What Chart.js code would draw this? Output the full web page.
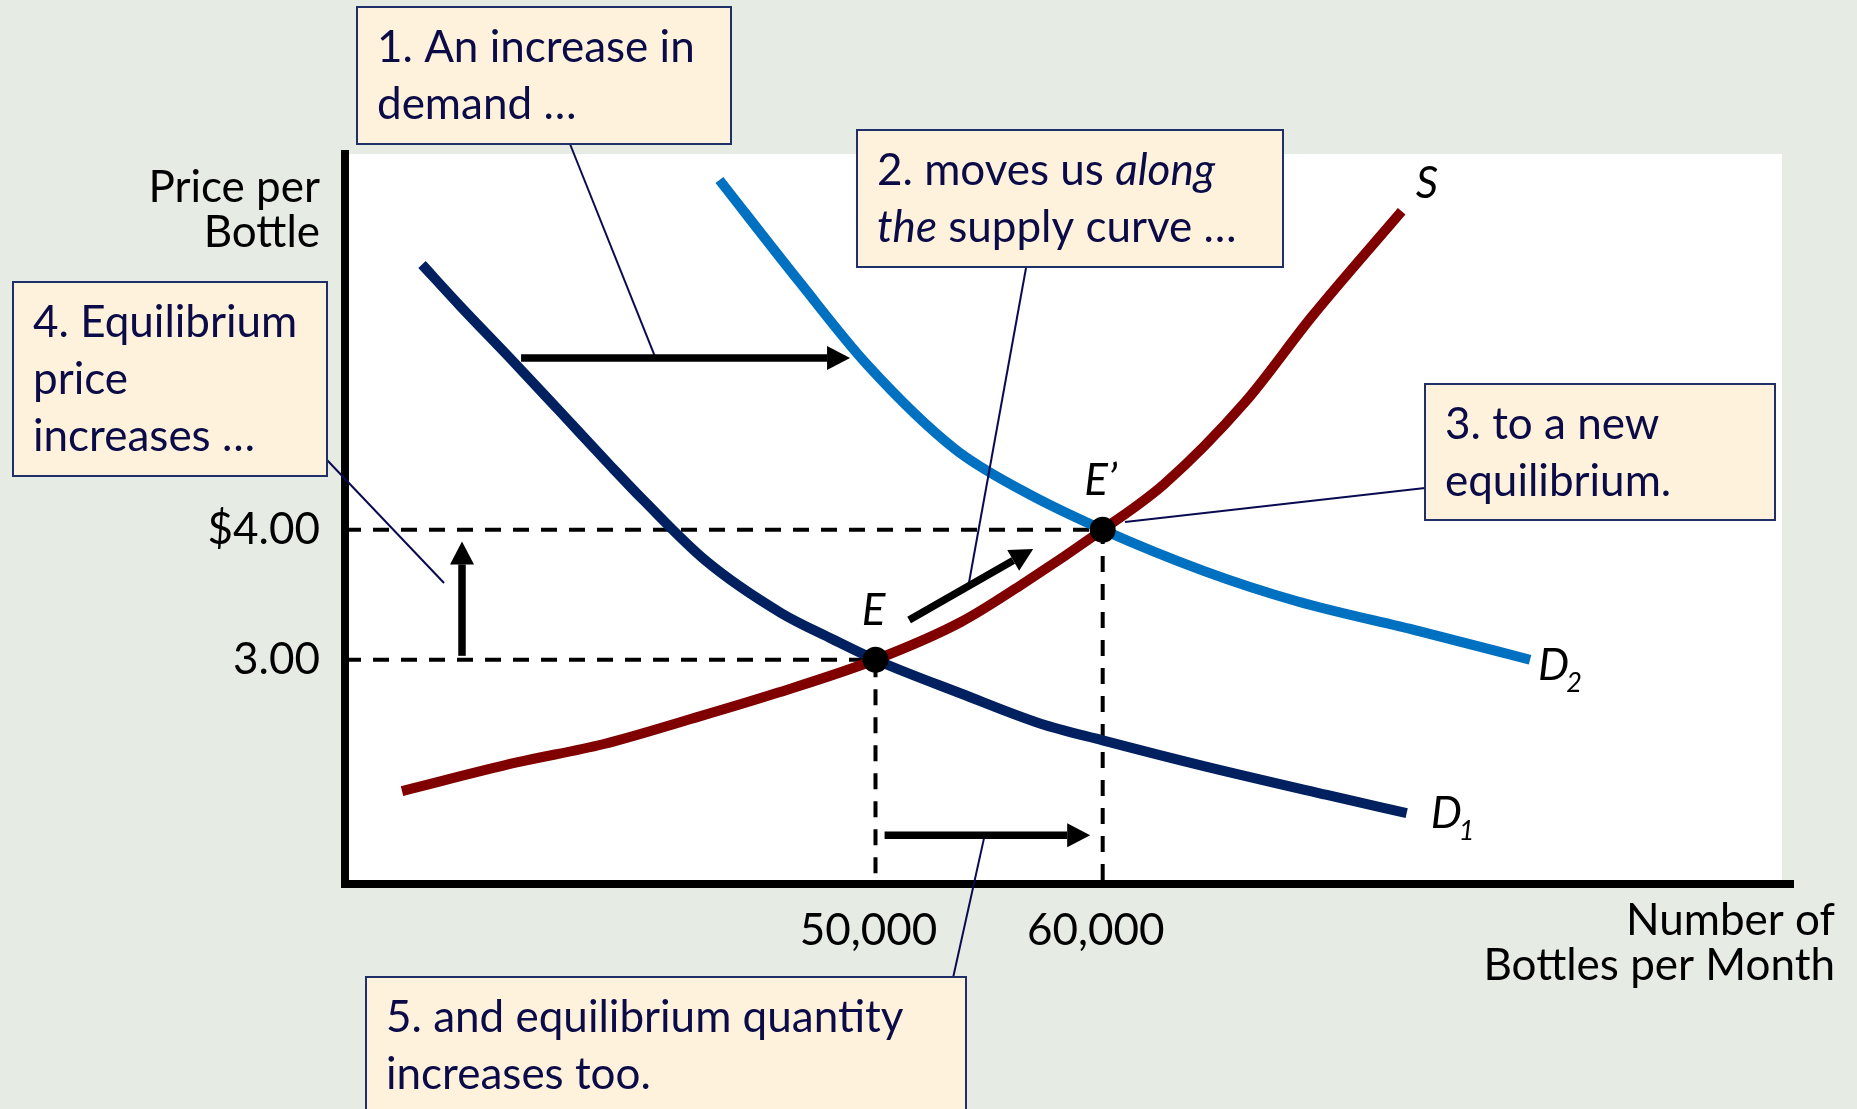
<!DOCTYPE html>
<html><head><meta charset="utf-8">
<script src="https://cdn.jsdelivr.net/npm/chart.js@4.4.0/dist/chart.umd.min.js"></script>
<style>
html,body{margin:0;padding:0;background:#E6EBE4;overflow:hidden}
canvas{display:block}
</style></head><body>
<canvas id="c" width="1857" height="1109"></canvas>
<script>
// ---------- data ----------
const xTickValues = [50000, 60000];
const xTickLabels = ['50,000', '60,000'];
const yTickValues = [3, 4];
const yTickLabels = ['3.00', '$4.00'];
const xRange = [26650, 89900];
const yRange = [1.275, 6.89];

const d1Qty   = [30040, 31670, 34130, 36160, 38400, 39770, 42540, 45840, 48090, 50000, 53760, 57240, 60000, 64500, 69870, 73380];
const d1Price = [6.04, 5.73, 5.28, 4.90, 4.48, 4.23, 3.76, 3.36, 3.16, 3.00, 2.74, 2.51, 2.38, 2.18, 1.96, 1.82];

const d2Qty   = [43130, 46680, 49630, 53500, 56470, 60000, 64500, 68550, 73920, 78810];
const d2Price = [6.69, 5.90, 5.27, 4.62, 4.30, 4.00, 3.68, 3.45, 3.22, 3.00];

const sQty    = [29160, 34210, 38000, 41790, 45580, 50000, 53760, 56450, 60000, 62700, 66260, 69210, 73160];
const sPrice  = [1.99, 2.21, 2.35, 2.54, 2.74, 3.00, 3.29, 3.58, 4.00, 4.35, 4.98, 5.64, 6.45];

const eqQty    = [50000, 60000];
const eqPrice  = [3.00, 4.00];
const eqLabels = ['E', 'E\u2019'];

const curveNames = ['S', 'D', 'D'];
const curveSubs  = ['', '2', '1'];

// arrows: from / to in data units
const arrowFromQty   = [34400, 51480, 31800, 50400];
const arrowFromPrice = [5.32, 3.306, 3.03, 1.65];
const arrowToQty     = [48880, 56940, 31800, 59450];
const arrowToPrice   = [5.32, 3.852, 3.91, 1.65];

// leader line targets (data units), one per note
const leaderQty   = [40300, 54070, 31010, 60980, 54780];
const leaderPrice = [5.33, 3.55, 3.59, 4.06, 1.63];

// note texts (segments: [text, italic])
const notes = [
  [[['1. An increase in', 0]], [['demand \u2026', 0]]],
  [[['2. moves us ', 0], ['along', 1]], [['the', 1], [' supply curve \u2026', 0]]],
  [[['4. Equilibrium', 0]], [['price', 0]], [['increases \u2026', 0]]],
  [[['3. to a new', 0]], [['equilibrium.', 0]]],
  [[['5. and equilibrium quantity', 0]], [['increases too.', 0]]]
];
const yTitle = ['Price per', 'Bottle'];
const xTitle = ['Number of', 'Bottles per Month'];

// ---------- style / layout ----------
const FONT = 'Lato, "Open Sans", sans-serif';
const FS = 44;
const NAVY_TXT = '#0B0B48';
const BOX_FILL = '#FFF2DC';
const BOX_LINE = '#1F3068';
// note boxes: left, top, width, height ; leader start point (px)
const noteBoxes = [
  {x: 357, y: 7, w: 374, h: 137, lx: 570, ly: 144},
  {x: 857, y: 130, w: 426, h: 137, lx: 1026, ly: 268},
  {x: 13, y: 282, w: 314, h: 194, lx: 327, ly: 460},
  {x: 1425, y: 384, w: 350, h: 136, lx: 1425, ly: 488},
  {x: 366, y: 977, w: 600, h: 200, lx: 953, ly: 978}
];

const pts = (xs, ys) => xs.map((x, i) => ({x, y: ys[i]}));

function richLine(ctx, segs, x, y, size) {
  let cx = x;
  for (const [t, it] of segs) {
    ctx.font = (it ? 'italic ' : '') + size + 'px ' + FONT;
    ctx.fillText(t, cx, y);
    cx += ctx.measureText(t).width;
  }
}

function arrow(ctx, x1, y1, x2, y2, w, hl, hw) {
  const a = Math.atan2(y2 - y1, x2 - x1);
  const bx = x2 - hl * Math.cos(a), by = y2 - hl * Math.sin(a);
  ctx.save();
  ctx.strokeStyle = '#000'; ctx.fillStyle = '#000';
  ctx.lineWidth = w; ctx.lineCap = 'butt';
  ctx.beginPath(); ctx.moveTo(x1, y1); ctx.lineTo(bx, by); ctx.stroke();
  ctx.beginPath();
  ctx.moveTo(x2, y2);
  ctx.lineTo(bx + hw / 2 * Math.sin(a), by - hw / 2 * Math.cos(a));
  ctx.lineTo(bx - hw / 2 * Math.sin(a), by + hw / 2 * Math.cos(a));
  ctx.closePath(); ctx.fill();
  ctx.restore();
}

const annotPlugin = {
  id: 'annot',
  beforeDraw(chart) {
    const {ctx, chartArea: a} = chart;
    ctx.save();
    ctx.fillStyle = '#FFFFFF';
    ctx.fillRect(a.left, a.top, a.right - a.left, a.bottom - a.top);
    ctx.restore();
  },
  afterDraw(chart) {
    const {ctx, chartArea: a, scales: {x, y}} = chart;
    ctx.save();
    // x-axis extension past plot area
    ctx.strokeStyle = '#000'; ctx.lineWidth = 8;
    ctx.beginPath(); ctx.moveTo(a.right - 2, a.bottom); ctx.lineTo(a.right + 12, a.bottom); ctx.stroke();

    // axis titles
    ctx.fillStyle = '#000';
    ctx.font = FS + 'px ' + FONT;
    ctx.textAlign = 'right'; ctx.textBaseline = 'alphabetic';
    ctx.fillText(yTitle[0], a.left - 25, 202);
    ctx.fillText(yTitle[1], a.left - 25, 247);
    ctx.fillText(xTitle[0], 1835, 935);
    ctx.fillText(xTitle[1], 1835, 980);

    // leader lines
    ctx.strokeStyle = '#0A0A50'; ctx.lineWidth = 2;
    noteBoxes.forEach((b, i) => {
      ctx.beginPath();
      ctx.moveTo(b.lx, b.ly);
      ctx.lineTo(x.getPixelForValue(leaderQty[i]), y.getPixelForValue(leaderPrice[i]));
      ctx.stroke();
    });

    // arrows
    arrowFromQty.forEach((q, i) => {
      arrow(ctx, x.getPixelForValue(q), y.getPixelForValue(arrowFromPrice[i]),
            x.getPixelForValue(arrowToQty[i]), y.getPixelForValue(arrowToPrice[i]), 7.5, 23, 24);
    });

    // note boxes
    ctx.textAlign = 'left';
    noteBoxes.forEach((b, i) => {
      ctx.fillStyle = BOX_FILL; ctx.fillRect(b.x, b.y, b.w, b.h);
      ctx.strokeStyle = BOX_LINE; ctx.lineWidth = 2; ctx.strokeRect(b.x, b.y, b.w, b.h);
      ctx.fillStyle = NAVY_TXT;
      notes[i].forEach((line, k) => richLine(ctx, line, b.x + 20, b.y + 54.5 + k * 57, FS));
    });

    // equilibrium labels
    ctx.fillStyle = '#000';
    ctx.textAlign = 'center';
    ctx.font = 'italic ' + FS + 'px ' + FONT;
    eqQty.forEach((q, i) => {
      ctx.fillText(eqLabels[i], x.getPixelForValue(q) - 2, y.getPixelForValue(eqPrice[i]) - 35);
    });

    // curve labels at curve ends
    ctx.textAlign = 'left';
    const ends = [
      [sQty[sQty.length - 1], sPrice[sPrice.length - 1], 14, -13],
      [d2Qty[d2Qty.length - 1], d2Price[d2Price.length - 1], 8, 20],
      [d1Qty[d1Qty.length - 1], d1Price[d1Price.length - 1], 24, 15]
    ];
    ends.forEach(([q, p, dx, dy], i) => {
      const px = x.getPixelForValue(q) + dx, py = y.getPixelForValue(p) + dy;
      ctx.font = 'italic ' + FS + 'px ' + FONT;
      ctx.fillText(curveNames[i], px, py);
      if (curveSubs[i]) {
        const w = ctx.measureText(curveNames[i]).width;
        ctx.font = 'italic ' + Math.round(FS * 0.62) + 'px ' + FONT;
        ctx.fillText(curveSubs[i], px + w - 3, py + 12);
      }
    });
    ctx.restore();
  }
};

Chart.defaults.font.family = FONT;
Chart.defaults.font.size = FS;
Chart.defaults.color = '#000';

const curveStyle = {showLine: true, borderWidth: 10, pointRadius: 0, borderCapStyle: 'butt', borderJoinStyle: 'round', cubicInterpolationMode: 'monotone'};

new Chart(document.getElementById('c'), {
  type: 'scatter',
  data: {
    datasets: [
      {data: pts(eqQty, eqPrice), pointRadius: 13, pointBackgroundColor: '#000', pointBorderWidth: 0, showLine: false},
      Object.assign({data: pts(sQty, sPrice), borderColor: '#800000'}, curveStyle),
      Object.assign({data: pts(d2Qty, d2Price), borderColor: '#0070C0'}, curveStyle),
      Object.assign({data: pts(d1Qty, d1Price), borderColor: '#002060'}, curveStyle),
      {data: [{x: xRange[0], y: eqPrice[1]}, {x: eqQty[1], y: eqPrice[1]}, {x: eqQty[1], y: yRange[0]}], showLine: true, borderColor: '#000', borderWidth: 4, borderDash: [16, 12], pointRadius: 0},
      {data: [{x: xRange[0], y: eqPrice[0]}, {x: eqQty[0], y: eqPrice[0]}, {x: eqQty[0], y: yRange[0]}], showLine: true, borderColor: '#000', borderWidth: 4, borderDash: [16, 12], pointRadius: 0}
    ]
  },
  options: {
    responsive: false,
    animation: false,
    devicePixelRatio: 1,
    events: [],
    layout: {padding: {left: 0, top: 154, right: 75, bottom: 0}},
    plugins: {legend: {display: false}, tooltip: {enabled: false}},
    scales: {
      x: {
        type: 'linear', min: xRange[0], max: xRange[1],
        grid: {display: false, drawTicks: false},
        border: {display: true, color: '#000', width: 8},
        afterBuildTicks: s => { s.ticks = xTickValues.map(v => ({value: v})); },
        afterFit: s => { s.height = 225; },
        ticks: {autoSkip: false, maxRotation: 0, padding: 20, labelOffset: -7, color: '#000',
                callback: (v) => xTickLabels[xTickValues.indexOf(v)]}
      },
      y: {
        type: 'linear', min: yRange[0], max: yRange[1],
        grid: {display: false, drawTicks: false},
        border: {display: true, color: '#000', width: 8},
        afterBuildTicks: s => { s.ticks = yTickValues.map(v => ({value: v})); },
        afterFit: s => { s.width = 345; },
        ticks: {autoSkip: false, padding: 25, color: '#000',
                callback: (v) => yTickLabels[yTickValues.indexOf(v)]}
      }
    }
  },
  plugins: [annotPlugin]
});
</script>
</body></html>
